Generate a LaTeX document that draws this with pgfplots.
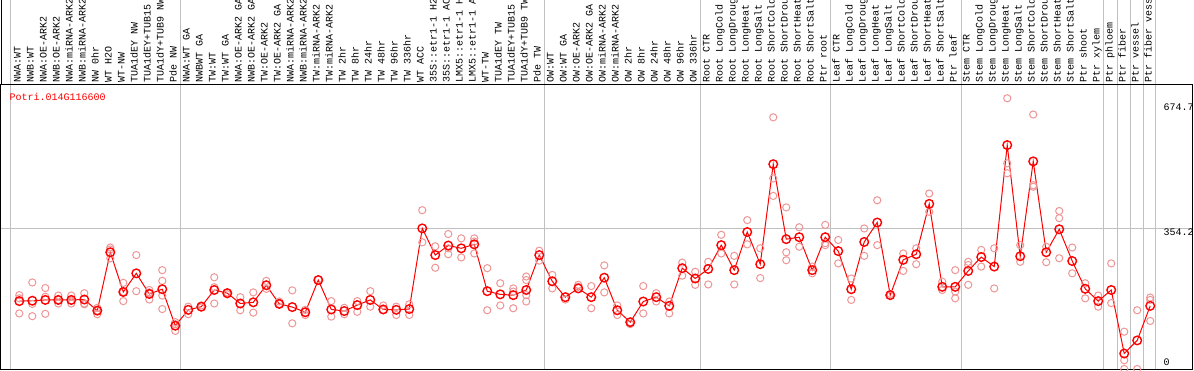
\documentclass[border=0pt]{standalone}
\usepackage{pgfplots}
\pgfplotsset{compat=1.18}
\usepackage{pgfplotstable}
\usepackage{fontspec}
\setmainfont{Liberation Mono}
\definecolor{meanred}{RGB}{255,0,0}
\definecolor{reppink}{RGB}{238,150,150}
\definecolor{sepgray}{RGB}{192,192,192}

\pgfplotstableread{
x y
0 171
1 172
2 174
3 174
4 174
5 175
6 147
7 294
8 194
9 241
10 189
11 201
12 109
13 149
14 157
15 199
16 191
17 165
18 168
19 211
20 164
21 156
22 143
23 224
24 150
25 146
26 161
27 174
28 150
29 149
30 151
31 354.2
32 287
33 311
34 304
35 314
36 196
37 188
38 186
39 199
40 287
41 221
42 181
43 203
44 181
45 230
46 148
47 118
48 170
49 181
50 159
51 254
52 228
53 252
54 312
55 249
56 345
57 264
58 516
59 327
60 332
61 249
62 332
63 297
64 201
65 320
66 369
67 186
68 275
69 289
70 416
71 207
72 207
73 247
74 282
75 258
76 564
77 284
78 523
79 294
80 352
81 272
82 202
83 171
84 199
85 39
86 72
87 159
}\meantable

\pgfplotstableread{
x y
0 186
0 178
0 140
1 218
1 164
1 133
2 204
2 182
2 139
3 185
3 165
3 174
4 185
4 165
4 172
5 191
5 165
5 163
6 154
6 138
6 147
7 306
7 301
7 279
8 217
8 171
8 194
9 287
9 196
10 199
10 175
10 193
11 249
11 222
11 185
11 151
12 118
12 96
12 113
13 157
13 138
14 160
14 155
15 231
15 206
15 165
16 193
16 188
17 181
17 148
18 193
18 142
19 222
19 202
20 170
20 164
21 198
21 115
22 149
22 136
23 225
24 171
24 132
25 154
25 138
26 171
26 144
27 196
27 157
28 160
28 149
29 157
29 136
30 163
30 136
31 400
31 319
32 309
32 255
33 340
33 304
33 289
34 329
34 281
35 329
35 321
35 291
36 254
36 148
37 216
37 160
38 203
38 153
38 195
39 233
39 224
39 186
39 170
40 298
40 273
41 237
41 203
42 175
43 212
43 207
44 209
44 153
45 261
45 193
46 160
46 136
47 118
47 113
48 209
48 140
49 191
49 170
50 170
50 140
51 268
51 235
52 245
52 212
53 270
53 213
54 338
54 291
55 285
55 213
56 375
56 314
57 304
57 229
58 634
58 480
58 436
59 407
59 294
59 274
60 357
60 308
61 258
61 241
62 363
62 317
62 312
63 325
63 266
64 228
64 174
65 354
65 285
66 425
66 312
67 189
67 185
68 291
68 247
69 304
69 264
70 442
70 396
71 220
71 199
72 249
72 195
72 178
73 270
73 262
73 212
74 300
74 258
75 304
75 203
76 682
76 518
76 493
77 312
77 270
78 641
78 463
78 459
79 308
79 269
80 398
80 380
80 279
81 306
81 241
82 216
82 178
83 185
83 157
84 266
84 166
85 94
85 22
85 0
86 148
86 0
87 180
87 174
87 121
}\reptable

\begin{document}
\begin{tikzpicture}[x=1pt,y=1pt]
\useasboundingbox (0,0) rectangle (1194,370);
\foreach \px in {10,180,544,700,830,961,1103,1117,1130,1143,1155} {
  \draw[sepgray, line width=1pt] (\px,0) -- (\px,370);
}
\draw[black, line width=1pt] (1,285) -- (1,370);
\begin{axis}[
  at={(1pt,1pt)}, anchor=south west,
  scale only axis, width=1192pt, height=284pt,
  xmin=-1.4077, xmax=90.2846, ymin=0, ymax=715.37,
  axis line style={black, line width=1pt},
  major tick length=0pt,
  xtick={0,...,87},
  xticklabels={NWA:WT,NWB:WT,NWA:OE-ARK2,NWB:OE-ARK2,NWA:miRNA-ARK2,NWB:miRNA-ARK2,NW 0hr,WT H2O,WT-NW,TUA1dEY NW,TUA1dEY+TUB15 NW,TUA1dY+TUB9 NW,Pde NW,NWA:WT GA,NWBWT GA,TW:WT,TW:WT GA,NWA:OE-ARK2 GA,NWB:OE-ARK2 GA,TW:OE-ARK2,TW:OE-ARK2 GA,NWA:miRNA-ARK2 GA,NWB:miRNA-ARK2 GA,TW:miRNA-ARK2,TW:miRNA-ARK2 GA,TW 2hr,TW 8hr,TW 24hr,TW 48hr,TW 96hr,TW 336hr,WT ACC,35S::etr1-1 H2O,35S::etr1-1 ACC,LMX5::etr1-1 H2O,LMX5::etr1-1 ACC,WT-TW,TUA1dEY TW,TUA1dEY+TUB15 TW,TUA1dY+TUB9 TW,Pde TW,OW:WT,OW:WT GA,OW:OE-ARK2,OW:OE-ARK2 GA,OW:miRNA-ARK2,OW:miRNA-ARK2 GA,OW 2hr,OW 8hr,OW 24hr,OW 48hr,OW 96hr,OW 336hr,Root CTR,Root LongCold,Root LongDrought,Root LongHeat,Root LongSalt,Root ShortCold,Root ShortDrought,Root ShortHeat,Root ShortSalt,Ptr root,Leaf CTR,Leaf LongCold,Leaf LongDrought,Leaf LongHeat,Leaf LongSalt,Leaf ShortCold,Leaf ShortDrought,Leaf ShortHeat,Leaf ShortSalt,Ptr leaf,Stem CTR,Stem LongCold,Stem LongDrought,Stem LongHeat,Stem LongSalt,Stem ShortCold,Stem ShortDrought,Stem ShortHeat,Stem ShortSalt,Ptr shoot,Ptr xylem,Ptr phloem,Ptr fiber,Ptr vessel,Ptr fiber vessel},
  xticklabel pos=upper,
  xticklabel style={font=\fontsize{10}{12}\selectfont, xshift=1.4pt, yshift=2pt, rotate=90, anchor=base west, inner sep=0pt},
  ytick={354.2}, yticklabels={},
  ymajorgrids, major grid style={sepgray, line width=1pt},
]
\addplot[only marks, mark=o, mark size=3.6pt, reppink, mark options={line width=1pt}] table[x=x,y=y] {\reptable};
\addplot[meanred, line width=1pt, mark=o, mark size=4.3pt, mark options={line width=1.4pt}] table[x=x,y=y] {\meantable};
\end{axis}
\node[anchor=base west, inner sep=0pt, text=red, font=\fontsize{10}{12}\selectfont] at (9.3,269) {Potri.014G116600};
\node[anchor=north west, inner sep=0pt, font=\fontsize{10}{12}\selectfont] at (1163.3,266) {674.7};
\node[anchor=north west, inner sep=0pt, font=\fontsize{10}{12}\selectfont] at (1163.3,141.7) {354.2};
\node[anchor=north west, inner sep=0pt, font=\fontsize{10}{12}\selectfont] at (1163.3,11.7) {0};
\end{tikzpicture}
\end{document}
